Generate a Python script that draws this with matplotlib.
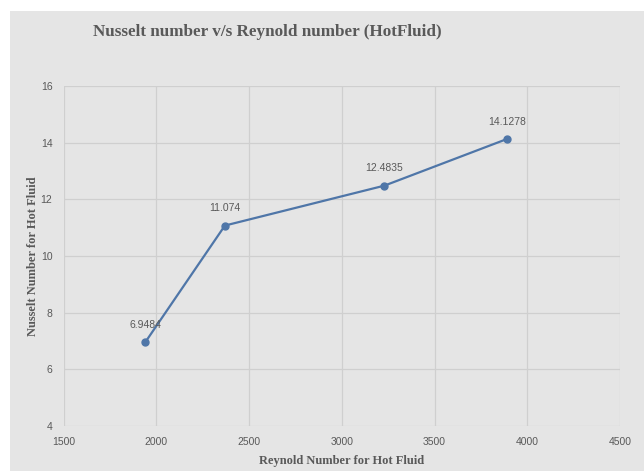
import matplotlib.pyplot as plt
from matplotlib.patches import Rectangle

reynolds = [1940, 2370, 3230, 3890]
nusselt = [6.9484, 11.074, 12.4835, 14.1278]
point_labels = ["6.9484", "11.074", "12.4835", "14.1278"]

bg = "#e5e5e5"
text_col = "#595959"

fig = plt.figure(figsize=(6.44, 4.71), dpi=100)
fig.patch.set_facecolor("white")
# gray chart area with small white margin top/left
fig.patches.append(Rectangle((10 / 644, 0), 1, (471 - 11) / 471,
                             transform=fig.transFigure, facecolor=bg,
                             edgecolor="none", zorder=-1))

ax = fig.add_axes([63.5 / 644, 45 / 471, 556.5 / 644, 340 / 471])
ax.set_facecolor(bg)

ax.plot(reynolds, nusselt, color="#4f76a8", linewidth=1.6,
        marker="o", markersize=5, zorder=3)
for x, y, lab in zip(reynolds, nusselt, point_labels):
    ax.annotate(lab, (x, y), xytext=(0, 9), textcoords="offset points",
                ha="center", va="bottom", fontsize=7.5, color=text_col,
                family="Liberation Sans")

ax.set_xlim(1500, 4500)
ax.set_ylim(4, 16)
ax.set_xticks(range(1500, 4501, 500))
ax.set_yticks(range(4, 17, 2))
ax.grid(True, color="#cfcfcf", linewidth=0.9)
ax.set_axisbelow(True)
for s in ax.spines.values():
    s.set_visible(False)
ax.tick_params(length=0, labelsize=7.5, labelcolor=text_col, pad=8)
for t in ax.get_xticklabels() + ax.get_yticklabels():
    t.set_family("Liberation Sans")

ax.set_xlabel("Reynold Number for Hot Fluid", family="Liberation Serif",
              fontweight="bold", fontsize=9, color=text_col, labelpad=6)
ax.set_ylabel("Nusselt Number for Hot Fluid", family="Liberation Serif",
              fontweight="bold", fontsize=9, color=text_col, labelpad=1)

fig.text(267 / 644, 1 - 32 / 471, "Nusselt number v/s Reynold number (HotFluid)",
         family="Liberation Serif", fontweight="bold", fontsize=12.3,
         color=text_col, ha="center", va="center", zorder=5)

fig.savefig("out.png", dpi=100)
